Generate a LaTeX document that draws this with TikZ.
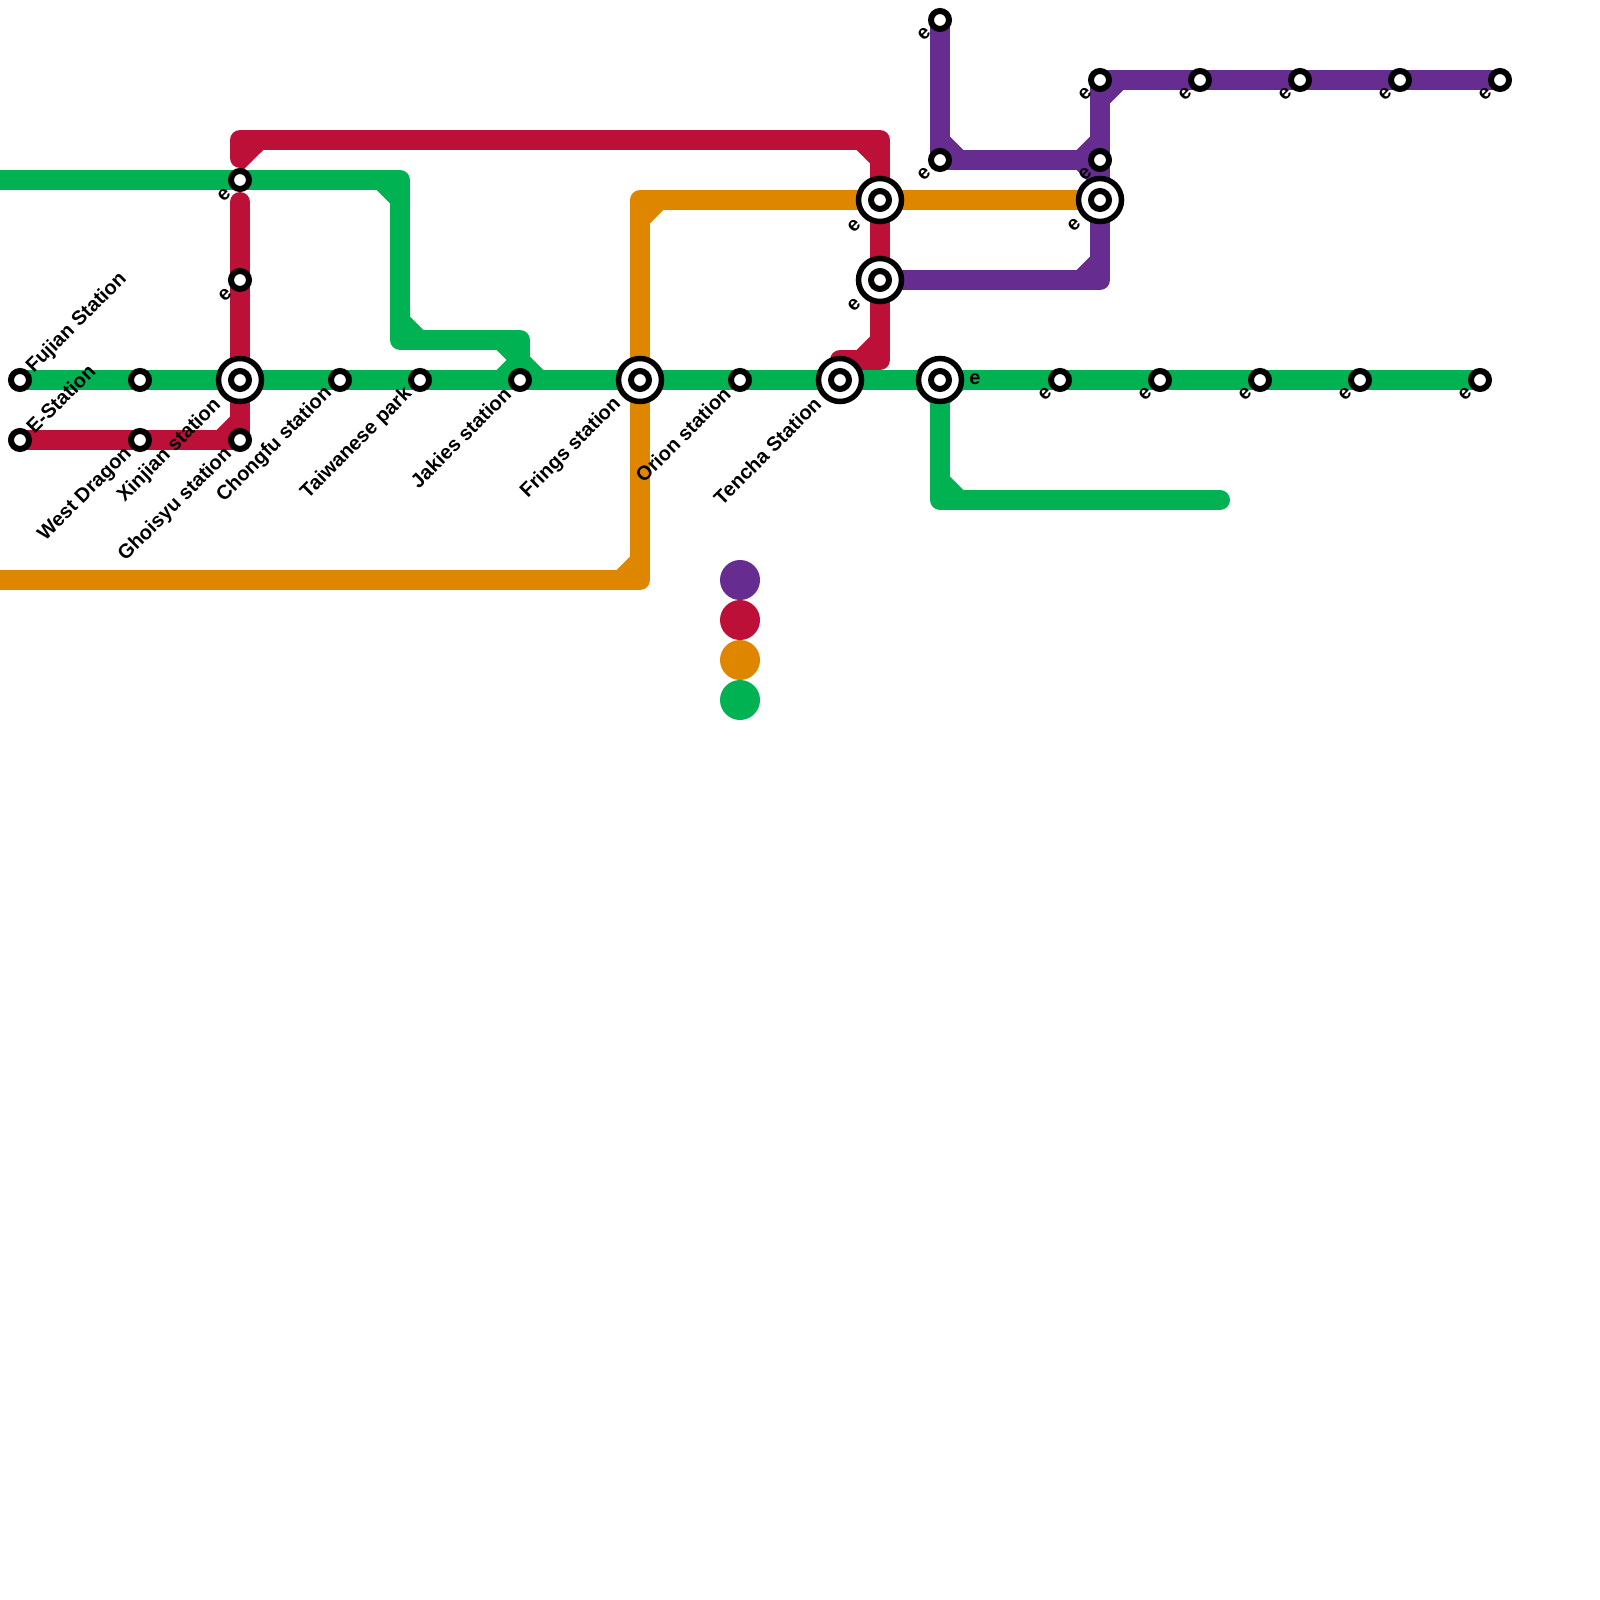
\documentclass[tikz,border=0pt]{standalone}
\usepackage{fontspec}
\setmainfont{Liberation Sans}
\usetikzlibrary{backgrounds}
\definecolor{lp}{HTML}{662C90}
\definecolor{lr}{HTML}{BD1038}
\definecolor{lo}{HTML}{DF8600}
\definecolor{lg}{HTML}{00B251}
\newcommand\cham[5]{\fill[#1] ({#2-2*(#4)},{#3-2*(#5)}) -- ({#2+13.3*(#4)},#3) -- (#2,{#3+13.3*(#5)}) -- cycle;}
\tikzset{
  metro/.style={line width=20pt,line cap=round,line join=round},
  stn/.style={circle,draw=black,fill=white,line width=6pt,minimum size=18pt,inner sep=0pt},
  hub/.style={circle,draw=black,fill=white,line width=5.5pt,minimum size=43pt,inner sep=0pt,
    path picture={\draw[black,line width=6pt] (path picture bounding box.center) circle[radius=9pt];}},
  lab/.style={font=\bfseries\fontsize{20}{20}\selectfont,inner sep=0pt,rotate=45,text=black},
  lsw/.style={lab,anchor=east},
  lne/.style={lab,anchor=west},
  ee/.style={font=\bfseries\fontsize{20}{20}\selectfont,inner sep=0pt,rotate=45,text=black},
  legend/.style={circle,minimum size=40pt,inner sep=0pt}
}
\begin{document}
\begin{tikzpicture}[x=1pt,y=-1pt]
\useasboundingbox (0,0) rectangle (1600,1600);
% stations
\node[stn] (fujian) at (20,380) {};
\node[stn] (estation) at (20,440) {};
\node[stn] (west) at (140,440) {};
\node[stn] (s140) at (140,380) {};
\node[hub] (xinjian) at (240,380) {};
\node[stn] (ghoisyu) at (240,440) {};
\node[stn] (t240a) at (240,180) {};
\node[stn] (t240b) at (240,280) {};
\node[stn] (chongfu) at (340,380) {};
\node[stn] (taiwanese) at (420,380) {};
\node[stn] (jakies) at (520,380) {};
\node[hub] (frings) at (640,380) {};
\node[stn] (orion) at (740,380) {};
\node[hub] (tencha) at (840,380) {};
\node[hub] (h880a) at (880,200) {};
\node[hub] (h880b) at (880,280) {};
\node[hub] (h940) at (940,380) {};
\node[stn] (g1060) at (1060,380) {};
\node[stn] (g1160) at (1160,380) {};
\node[stn] (g1260) at (1260,380) {};
\node[stn] (g1360) at (1360,380) {};
\node[stn] (g1480) at (1480,380) {};
\node[stn] (p940a) at (940,20) {};
\node[stn] (p940b) at (940,160) {};
\node[stn] (p1100a) at (1100,80) {};
\node[stn] (p1100b) at (1100,160) {};
\node[hub] (h1100) at (1100,200) {};
\node[stn] (p1200) at (1200,80) {};
\node[stn] (p1300) at (1300,80) {};
\node[stn] (p1400) at (1400,80) {};
\node[stn] (p1500) at (1500,80) {};
% bends and free ends
\coordinate (gw) at (-20,180);
\coordinate (g1) at (400,180);
\coordinate (g2) at (400,340);
\coordinate (g3) at (520,340);
\coordinate (g4) at (940,500);
\coordinate (g5) at (1220,500);
\coordinate (ow) at (-20,580);
\coordinate (o1) at (640,580);
\coordinate (o2) at (640,200);
\coordinate (r1) at (240,158);
\coordinate (r2) at (240,140);
\coordinate (r3) at (880,140);
\coordinate (r4) at (880,360);
\coordinate (r5) at (840,360);
\coordinate (r6) at (240,202);
\coordinate (p1) at (1100,280);
% lines
\begin{scope}[on background layer]
\draw[metro,lp] (p940a.center) -- (p940b.center) -- (p1100b.center);
\draw[metro,lp] (h880b.center) -- (p1) -- (p1100a.center) -- (p1500.center);
\cham{lp}{950}{150}{1}{-1}
\cham{lp}{1090}{150}{-1}{-1}
\cham{lp}{1090}{170}{-1}{1}
\cham{lp}{1110}{90}{1}{1}
\cham{lp}{1090}{270}{-1}{-1}
\draw[metro,lr] (r1) -- (r2) -- (r3) -- (r4) -- (r5);
\draw[metro,lr] (r6) -- (ghoisyu.center) -- (estation.center);
\fill[lr] (240,148) -- (263.3,150) -- (243,170) -- (240,170) -- cycle;
\cham{lr}{870}{150}{-1}{1}
\cham{lr}{870}{350}{-1}{-1}
\cham{lr}{230}{430}{-1}{-1}
\draw[metro,lo] (ow) -- (o1) -- (o2) -- (h1100.center);
\cham{lo}{630}{570}{-1}{-1}
\cham{lo}{650}{210}{1}{1}
\draw[metro,lg] (gw) -- (g1) -- (g2) -- (g3) -- (jakies.center);
\draw[metro,lg] (fujian.center) -- (g1480.center);
\draw[metro,lg] (h940.center) -- (g4) -- (g5);
\cham{lg}{390}{190}{-1}{1}
\cham{lg}{410}{330}{1}{-1}
\cham{lg}{510}{350}{-1}{1}
\cham{lg}{510}{370}{-1}{-1}
\cham{lg}{530}{370}{1}{-1}
\cham{lg}{950}{490}{1}{-1}
\cham{lg}{930}{390}{-1}{1}
\cham{lg}{950}{390}{1}{1}
\end{scope}
% legend
\node[legend,fill=lp] (lega) at (740,580) {};
\node[legend,fill=lr] (legb) at (740,620) {};
\node[legend,fill=lo] (legc) at (740,660) {};
\node[legend,fill=lg] (legd) at (740,700) {};
% labels
\node[lne] (tfujian) at (30,370) {Fujian Station};
\node[lne] (testation) at (29.5,430) {E-Station};
\node[lsw] (twest) at (129,451) {West Dragon};
\node[lsw] (txinjian) at (218,402) {Xinjian station};
\node[lsw] (tghoisyu) at (229,451) {Ghoisyu station};
\node[lsw] (tchongfu) at (329,390.5) {Chongfu station};
\node[lsw] (ttaiwanese) at (409,391) {Taiwanese park};
\node[lsw] (tjakies) at (507.5,390.5) {Jakies station};
\node[lsw] (tfrings) at (618,401) {Frings station};
\node[lsw] (torion) at (727,390.5) {Orion station};
\node[lsw] (ttencha) at (817.5,400.5) {Tencha Station};
% e labels
\node[ee] (e1) at (224,195) {e};
\node[ee] (e2) at (225,295) {e};
\node[ee] (e3) at (924,34) {e};
\node[ee] (e4) at (924,174) {e};
\node[ee] (e5) at (1085,94) {e};
\node[ee] (e6) at (1085,174) {e};
\node[ee] (e7) at (854,226) {e};
\node[ee] (e8) at (854,305) {e};
\node[ee] (e9) at (1074,225) {e};
\node[font=\bfseries\fontsize{20}{20}\selectfont,inner sep=0pt] (e10) at (975,379) {e};
\node[ee] (e11) at (1045,394) {e};
\node[ee] (e12) at (1145,394) {e};
\node[ee] (e13) at (1245,394) {e};
\node[ee] (e14) at (1345,394) {e};
\node[ee] (e15) at (1465,394) {e};
\node[ee] (e16) at (1185,94) {e};
\node[ee] (e17) at (1285,94) {e};
\node[ee] (e18) at (1385,94) {e};
\node[ee] (e19) at (1485,94) {e};
\end{tikzpicture}
\end{document}
